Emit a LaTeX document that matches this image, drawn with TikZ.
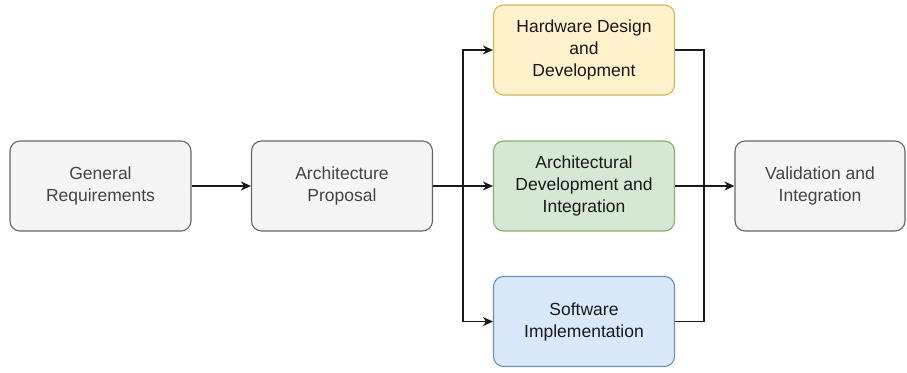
\documentclass[tikz,border=0pt]{standalone}
\usepackage{fontspec}
\setmainfont{Liberation Sans}
\usetikzlibrary{arrows.meta}
\definecolor{grayfill}{HTML}{F5F5F5}
\definecolor{graydraw}{HTML}{666666}
\definecolor{graytext}{HTML}{444444}
\definecolor{yelfill}{HTML}{FFF2CC}
\definecolor{yeldraw}{HTML}{D6B656}
\definecolor{grnfill}{HTML}{D5E8D4}
\definecolor{grndraw}{HTML}{82B366}
\definecolor{blufill}{HTML}{DAE8FC}
\definecolor{bludraw}{HTML}{6C8EBF}
\definecolor{linecol}{HTML}{1A1A1A}
\tikzset{
  box/.style={rounded corners=10pt, line width=1.1pt, minimum width=181pt,
    minimum height=90pt, align=center, inner sep=0pt,
    font=\fontsize{17.5}{22}\selectfont, text=black!90},
  graybox/.style={box, fill=grayfill, draw=graydraw, text=graytext},
  yelbox/.style={box, fill=yelfill, draw=yeldraw},
  grnbox/.style={box, fill=grnfill, draw=grndraw},
  blubox/.style={box, fill=blufill, draw=bludraw},
  conn/.style={line width=1.3pt, draw=linecol,
    -{Stealth[length=10pt, width=9pt, inset=3pt]}},
  plain/.style={line width=1.3pt, draw=linecol},
}
\begin{document}
\begin{tikzpicture}[x=1pt, y=-1pt]
  \useasboundingbox (0,0) rectangle (907,372);
  \node[graybox] (req) at (100.5,186) {General\\Requirements};
  \node[graybox] (prop) at (342,186) {Architecture\\Proposal};
  \node[yelbox] (hw) at (584,50) {Hardware Design\\and\\Development};
  \node[grnbox] (arch) at (584,186) {Architectural\\Development and\\Integration};
  \node[blubox] (sw) at (584,321.5) {Software\\Implementation};
  \node[graybox, minimum width=170pt] (val) at (820,186) {Validation and\\Integration};

  \coordinate (split) at (463,186);
  \coordinate (merge) at (704,186);

  \draw[conn] (req) -- (prop);
  \draw[conn] (prop) -- (arch);
  \draw[conn] (split) |- (hw);
  \draw[conn] (split) |- (sw);
  \draw[conn] (arch) -- (val);
  \draw[plain] (hw.east) -| (merge);
  \draw[plain] (sw.east) -| (merge);
\end{tikzpicture}
\end{document}
